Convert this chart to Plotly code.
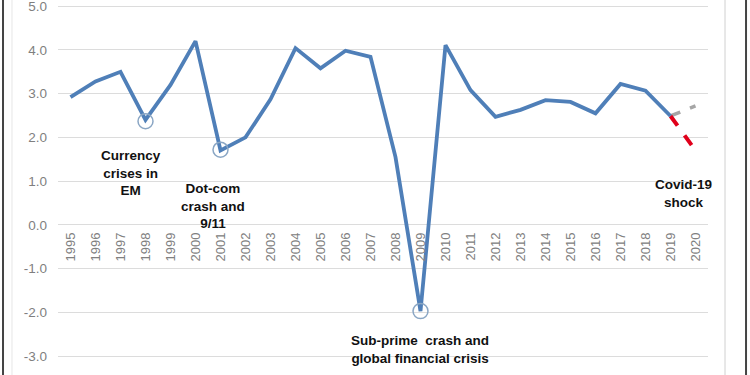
import plotly.graph_objects as go

years = [str(y) for y in range(1995, 2021)]
growth = [2.92, 3.28, 3.5, 2.4, 3.2, 4.2, 1.7, 2.0, 2.87, 4.04, 3.58, 3.98, 3.84, 1.55,
          -1.97, 4.11, 3.08, 2.47, 2.63, 2.85, 2.81, 2.55, 3.22, 3.07, 2.49]
pre_covid_years = ["2019", "2020"]
pre_covid_vals = [2.49, 2.72]
covid_years = ["2019", "2020"]
covid_vals = [2.49, 1.7]
crisis_years = ["1998", "2001", "2009"]
crisis_vals = [2.37, 1.72, -1.97]

y_ticks = [5, 4, 3, 2, 1, 0, -1, -2, -3]

fig = go.Figure()
fig.add_trace(go.Scatter(x=pre_covid_years, y=pre_covid_vals, mode="lines",
                         line=dict(color="#a6a6a6", width=3.5, dash="dash"), showlegend=False))
fig.add_trace(go.Scatter(x=covid_years, y=covid_vals, mode="lines",
                         line=dict(color="#e0001b", width=4, dash="dash"), showlegend=False))
fig.add_trace(go.Scatter(x=years[:len(growth)], y=growth, mode="lines",
                         line=dict(color="#4f7fb8", width=3.8), showlegend=False))
fig.add_trace(go.Scatter(x=crisis_years, y=crisis_vals, mode="markers",
                         marker=dict(size=15, color="rgba(0,0,0,0)",
                                     line=dict(color="#8aa6c4", width=1.5)),
                         showlegend=False))

font_ann = dict(family="Liberation Sans, Arial", size=13.5, color="#111111")
anns = [
    (years.index("1998") - 0.6, 1.19, "<b>Currency<br>crises in<br>EM</b>"),
    (years.index("2001") - 0.3, 0.43, "<b>Dot-com<br>crash and<br>9/11</b>"),
    (years.index("2009") - 0.02, -2.84, "<b>Sub-prime  crash and<br>global financial crisis</b>"),
    (years.index("2019") + 0.5, 0.71, "<b>Covid-19<br>shock</b>"),
]
for x, y, t in anns:
    fig.add_annotation(x=x, y=y, text=t, showarrow=False, font=font_ann,
                       xref="x", yref="y", yanchor="middle", align="center")

ymin, ymax = -3.43, 5.14
zero_pos = (0 - ymin) / (ymax - ymin)

fig.update_layout(
    width=750, height=375,
    margin=dict(l=58, r=42, t=0, b=0),
    paper_bgcolor="white", plot_bgcolor="white",
    font=dict(family="Liberation Sans, Arial", color="#7f7f7f"),
    xaxis=dict(type="category", categoryorder="array", categoryarray=years,
               range=[-0.5, 25.5], tickangle=-90, tickfont=dict(size=13, color="#808080"),
               showgrid=False, showline=False, ticks="", anchor="free", position=zero_pos,
               zeroline=False, ticklabelstandoff=4),
    yaxis=dict(range=[ymin, ymax], tickvals=y_ticks, ticktext=[f"{v:.1f}" for v in y_ticks],
               tickfont=dict(size=13.5, color="#7f7f7f"), showgrid=True, gridcolor="#dcdcdc",
               gridwidth=1, zeroline=True, zerolinecolor="#dcdcdc", zerolinewidth=1,
               ticks="", ticklabelstandoff=10, ticklabeloverflow="allow"),
    shapes=[
        dict(type="line", xref="paper", yref="paper", x0=-0.0846, x1=-0.0846, y0=0, y1=1,
             line=dict(color="#444444", width=2)),
        dict(type="line", xref="paper", yref="paper", x0=-0.0708, x1=-0.0708, y0=0, y1=1,
             line=dict(color="#e6e6e6", width=1)),
        dict(type="line", xref="paper", yref="paper", x0=1.0262, x1=1.0262, y0=0, y1=1,
             line=dict(color="#e0e0e0", width=1.5)),
        dict(type="line", xref="paper", yref="paper", x0=1.0585, x1=1.0585, y0=0, y1=1,
             line=dict(color="#444444", width=2)),
    ],
)

fig.write_html("out.html", config={"displayModeBar": False},
               post_script="document.body.style.margin='0';document.body.style.overflow='hidden';")
